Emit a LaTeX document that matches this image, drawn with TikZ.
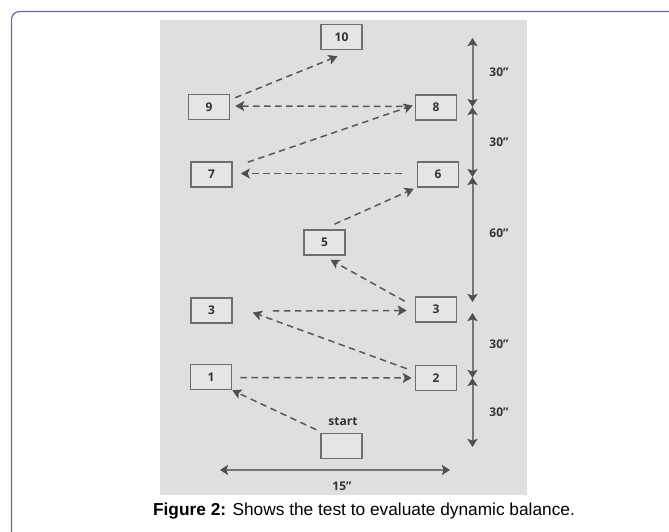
\documentclass[tikz,border=0pt]{standalone}
\usepackage{fontspec}
\setmainfont{Liberation Sans}
\newfontfamily\markfont{Open Sans}
\usetikzlibrary{arrows.meta,calc}
\definecolor{framecol}{HTML}{6A68A8}
\definecolor{panelgrey}{HTML}{DFDFDF}
\definecolor{boxfill}{HTML}{E5E5E5}
\definecolor{boxline}{HTML}{6E6E6E}
\definecolor{walkgrey}{HTML}{595959}
\definecolor{dimgrey}{HTML}{777777}
\definecolor{tipgrey}{HTML}{505050}
\definecolor{textgrey}{HTML}{333333}
\begin{document}
\begin{tikzpicture}[x=1pt,y=-1pt,
  station/.style={draw=boxline, line width=1.6pt, fill=boxfill,
    minimum width=41pt, minimum height=25pt, inner sep=0pt,
    font=\markfont\bfseries\fontsize{12}{13}\selectfont, text=textgrey},
  walk/.style={draw=walkgrey, line width=1.5pt, dash pattern=on 6.5pt off 4.5pt,
    -{Stealth[length=9pt,width=10pt,inset=2pt,color=tipgrey]}},
  dimtip/.tip={Stealth[length=8pt,width=10pt,inset=1.5pt,color=tipgrey]},
  dim/.style={draw=dimgrey, line width=2pt, dimtip-dimtip},
  dimlabel/.style={font=\markfont\bfseries\fontsize{12}{13}\selectfont, text=textgrey}]
\useasboundingbox (0,0) rectangle (669,532);
\clip (0,0) rectangle (669,532);

% page frame and figure panel
\draw[framecol, line width=1.2pt, rounded corners=8pt] (11.5,600) -- (11.5,11.5) -- (720,11.5);
\fill[panelgrey] (160,20) rectangle (527,495);

% stations
\node[station] (b10) at (341.5,37) {10};
\node[station] (b9)  at (209,107) {9};
\node[station] (b8)  at (436,107.5) {8};
\node[station] (b7)  at (211.5,174.5) {7};
\node[station] (b6)  at (438,174.5) {6};
\node[station] (b5)  at (324.5,242.5) {5};
\node[station] (b3l) at (211.5,310.5) {3};
\node[station] (b3r) at (436,309.5) {3};
\node[station] (b1)  at (211,377) {1};
\node[station] (b2)  at (436,378) {2};
\node[station] (bs)  at (341.5,446) {};
\node[dimlabel] (lstart) at (343,422) {start};

% walking route
\draw[walk] ($(bs.north west)+(-4,-3)$) -- (b1.south east);
\draw[walk] ($(b1.east)+(8,0.5)$) -- ($(b2.west)+(-3,0)$);
\draw[walk] ($(b2.north west)+(-8,4)$) -- ($(b3l.east)+(20,2)$);
\draw[walk] ($(b3l.east)+(40,0.5)$) -- ($(b3r.west)+(-8,1)$);
\draw[walk] ($(b3r.north west)+(-10,5)$) -- ($(b5.south)+(6,4)$);
\draw[walk] ($(b5.north)+(10,-5)$) -- ($(b6.south west)+(-3,1)$);
\draw[walk] ($(b6.west)+(-15,-1)$) -- ($(b7.east)+(8,-1)$);
\draw[walk] ($(b7.north east)+(15,1)$) -- ($(b8.west)+(-2,-2)$);
\draw[walk] ($(b8.west)+(-12,-1)$) -- ($(b9.east)+(5,-1)$);
\draw[walk] ($(b9.north east)+(5,4)$) -- ($(b10.south)+(-4,6)$);

% vertical distances
\coordinate (d0) at (472.5,38);
\coordinate (d1) at (472.5,107);
\coordinate (d2) at (472.5,177);
\coordinate (d3) at (472.5,302);
\coordinate (d4) at (472.5,313);
\coordinate (d5) at (472.5,378);
\coordinate (d6) at (472.5,447);
\draw[dim] (d0) -- (d1);
\draw[dim] (d1) -- (d2);
\draw[dim] (d2) -- (d3);
\draw[dim] (d4) -- (d5);
\draw[dim] (d5) -- (d6);
\node[dimlabel] (l1) at (499,72) {30”};
\node[dimlabel] (l2) at (499,142) {30”};
\node[dimlabel] (l3) at (499,233) {60”};
\node[dimlabel] (l4) at (499,344) {30”};
\node[dimlabel] (l5) at (499,412) {30”};

% horizontal distance
\coordinate (h0) at (220,470);
\coordinate (h1) at (450,470);
\draw[dim] (h0) -- (h1);
\node[dimlabel] (l6) at (342,486) {15”};

% caption
\node[font=\fontsize{17.3}{20}\selectfont, text=black] (cap) at (364,511)
  {\textbf{Figure 2:} Shows the test to evaluate dynamic balance.};
\end{tikzpicture}
\end{document}
